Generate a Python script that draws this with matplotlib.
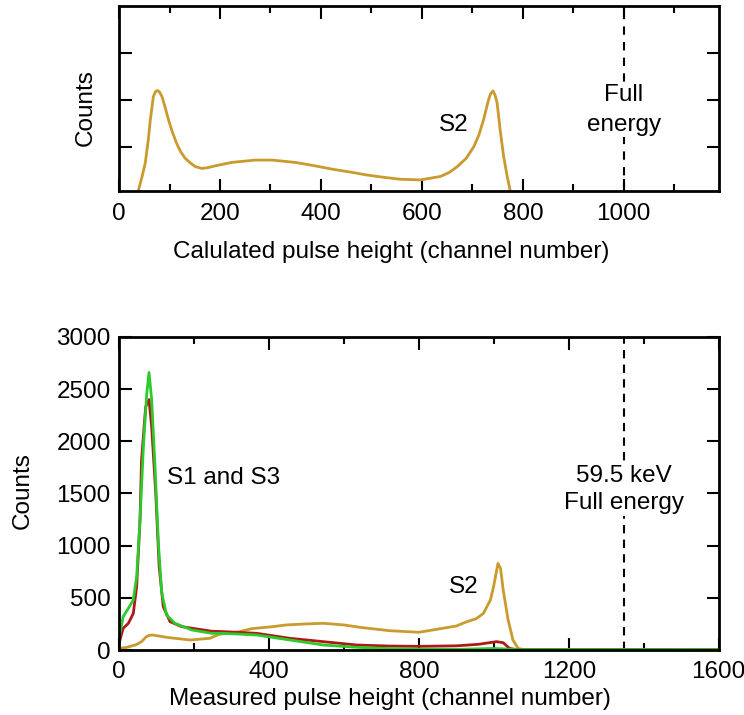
import matplotlib
matplotlib.use("Agg")
import matplotlib.pyplot as plt
from matplotlib.ticker import MultipleLocator

plt.rcParams['font.family'] = ['Liberation Sans', 'DejaVu Sans']
plt.rcParams['font.size'] = 17.5

# calculated S2 pulse height spectrum (arbitrary units)
calc_ch = [38, 45, 52, 58, 62, 68, 72, 76, 80, 85, 91, 98, 106, 114, 122, 131,
           141, 151, 164, 177, 190, 223, 270, 303, 349, 389, 425, 460, 491, 525,
           557, 597, 637, 655, 670, 688, 703, 713, 722, 732, 736, 741, 745, 749,
           755, 762, 769, 775]
calc_val = [0, 0.28, 0.6, 1.1, 1.52, 2.02, 2.12, 2.15, 2.12, 2.02, 1.8, 1.52, 1.25,
            1.02, 0.84, 0.7, 0.6, 0.52, 0.48, 0.5, 0.535, 0.61, 0.66, 0.66, 0.61,
            0.535, 0.46, 0.4, 0.34, 0.29, 0.25, 0.235, 0.31, 0.4, 0.52, 0.7, 0.95,
            1.2, 1.52, 1.95, 2.08, 2.14, 2.05, 1.88, 1.31, 0.73, 0.31, 0]

# measured spectra
s2_ch = [0, 20, 45, 60, 72, 80, 89, 130, 190, 242, 267, 322, 355, 411, 445, 500,
         546, 600, 648, 722, 800, 850, 900, 927, 953, 972, 991, 1000, 1011, 1018,
         1025, 1038, 1051, 1065, 1080, 1600]
s2_val = [15, 25, 50, 80, 125, 140, 144, 120, 96, 112, 150, 176, 205, 224, 240, 250,
          256, 240, 215, 185, 170, 200, 230, 270, 300, 350, 480, 620, 830, 780,
          575, 290, 96, 15, 4, 3]

red_ch = [0, 11, 25, 38, 47, 56, 60, 71, 80, 87, 98, 107, 118, 136, 167, 247, 278,
          367, 456, 545, 634, 722, 800, 900, 960, 1007, 1025, 1042, 1060, 1600]
red_val = [64, 208, 256, 350, 607, 1250, 1820, 2330, 2400, 2140, 1500, 800, 415,
           272, 224, 180, 176, 160, 112, 80, 48, 38, 35, 40, 55, 80, 70, 15, 5, 3]

green_ch = [0, 11, 25, 38, 47, 56, 65, 74, 80, 87, 96, 105, 114, 127, 149, 194, 247,
            278, 367, 456, 545, 634, 722, 800, 900, 1000, 1030, 1060, 1600]
green_val = [112, 320, 400, 480, 700, 1250, 1950, 2460, 2660, 2400, 1760, 1020, 545,
             335, 256, 192, 160, 160, 144, 96, 48, 26, 13, 8, 6, 15, 10, 4, 3]

gold = '#C99A2E'
red = '#B01818'
green = '#2ACB2A'


def style(ax):
    for s in ax.spines.values():
        s.set_linewidth(2)
    ax.tick_params(which='both', direction='in', top=True, right=True, width=1.5)
    ax.tick_params(which='major', length=9)
    ax.tick_params(which='minor', length=5)


fig = plt.figure(figsize=(7.44, 7.15), dpi=100)

# top panel
ax1 = fig.add_axes([0.16, 0.733, 0.806, 0.2587])
ax1.plot(calc_ch, calc_val, color=gold, lw=2)
ax1.axvline(1000, color='black', lw=1.5, ls=(0, (4, 3.5)), zorder=1)
ax1.set_xlim(0, 1188)
ax1.set_ylim(0, 3.96)
ax1.xaxis.set_major_locator(MultipleLocator(200))
ax1.xaxis.set_minor_locator(MultipleLocator(100))
ax1.set_yticks([0.95, 1.95, 2.95])
ax1.set_yticklabels([])
style(ax1)
ax1.tick_params(axis='x', pad=9)
ax1.set_xlabel('Calulated pulse height (channel number)')
ax1.xaxis.set_label_coords(0.453, -0.27)
ax1.set_ylabel('Counts')
ax1.yaxis.set_label_coords(-0.038, 0.45)
ax1.text(663, 1.41, 'S2', ha='center', va='center')
ax1.text(1000, 1.73, 'Full\nenergy', ha='center', va='center', linespacing=1.45,
         bbox=dict(facecolor='white', edgecolor='none', pad=1))

# bottom panel
ax2 = fig.add_axes([0.16, 0.0909, 0.806, 0.4378])
ax2.plot(s2_ch, s2_val, color=gold, lw=2)
ax2.plot(red_ch, red_val, color=red, lw=2)
ax2.plot(green_ch, green_val, color=green, lw=2)
ax2.axvline(1347, color='black', lw=1.5, ls=(0, (4, 3)), zorder=1)
ax2.set_xlim(0, 1600)
ax2.set_ylim(0, 3000)
ax2.xaxis.set_major_locator(MultipleLocator(400))
ax2.xaxis.set_minor_locator(MultipleLocator(200))
ax2.yaxis.set_major_locator(MultipleLocator(500))
style(ax2)
ax2.tick_params(axis='x', pad=8)
ax2.tick_params(axis='y', pad=6)
ax2.set_xlabel('Measured pulse height (channel number)')
ax2.xaxis.set_label_coords(0.452, -0.121)
ax2.set_ylabel('Counts')
ax2.yaxis.set_label_coords(-0.143, 0.51)
ax2.text(128, 1650, 'S1 and S3', ha='left', va='center')
ax2.text(920, 604, 'S2', ha='center', va='center')
ax2.text(1347, 1534, '59.5 keV\nFull energy', ha='center', va='center',
         linespacing=1.3, bbox=dict(facecolor='white', edgecolor='none', pad=1))

fig.savefig('out.png', dpi=100)
